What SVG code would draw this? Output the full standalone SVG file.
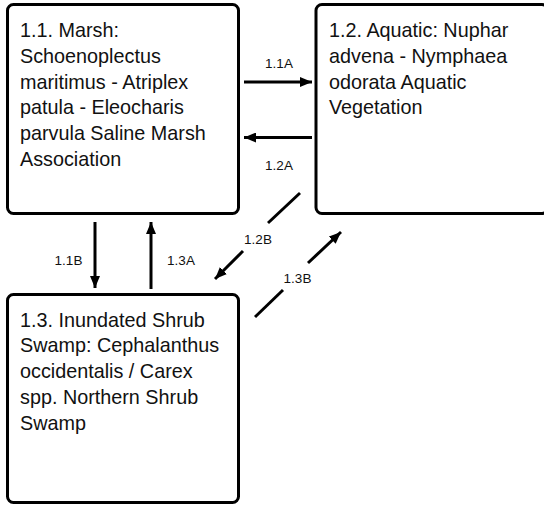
<svg xmlns="http://www.w3.org/2000/svg" width="544" height="506" viewBox="0 0 544 506">
<style>
.box{fill:#fff;stroke:#000;stroke-width:3}
.t{font-family:"Liberation Sans",Arial,sans-serif;font-size:19.8px;fill:#111}
.l{font-family:"Liberation Sans",Arial,sans-serif;font-size:13.5px;fill:#111;text-anchor:middle}
.c{stroke:#000;stroke-width:3;fill:none}
</style>
<defs>
<marker id="ah" viewBox="0 0 12 10" refX="12" refY="5" markerWidth="12" markerHeight="10" markerUnits="userSpaceOnUse" orient="auto">
<path d="M0,0 L12,5 L0,10 Z" fill="#000"/>
</marker>
</defs>
<rect width="544" height="506" fill="#fff"/>
<g id="n11">
<rect class="box" x="7.5" y="4.5" width="231" height="209" rx="6"/>
<text class="t">
<tspan x="20" y="37">1.1. Marsh:</tspan>
<tspan x="20" y="62.8">Schoenoplectus</tspan>
<tspan x="20" y="88.6">maritimus - Atriplex</tspan>
<tspan x="20" y="114.4">patula - Eleocharis</tspan>
<tspan x="20" y="140.2">parvula Saline Marsh</tspan>
<tspan x="20" y="166">Association</tspan>
</text>
</g>
<g id="n12">
<rect class="box" x="316" y="4.5" width="232" height="209" rx="6"/>
<text class="t">
<tspan x="329" y="37">1.2. Aquatic: Nuphar</tspan>
<tspan x="329" y="62.8">advena - Nymphaea</tspan>
<tspan x="329" y="88.6">odorata Aquatic</tspan>
<tspan x="329" y="114.4">Vegetation</tspan>
</text>
</g>
<g id="n13">
<rect class="box" x="7.5" y="294.5" width="231" height="208" rx="6"/>
<text class="t">
<tspan x="20" y="326.5">1.3. Inundated Shrub</tspan>
<tspan x="20" y="352.3">Swamp: Cephalanthus</tspan>
<tspan x="20" y="378.1">occidentalis / Carex</tspan>
<tspan x="20" y="403.9">spp. Northern Shrub</tspan>
<tspan x="20" y="429.7">Swamp</tspan>
</text>
</g>
<g id="connectors">
<line class="c" x1="244" y1="82" x2="312" y2="82" marker-end="url(#ah)"/>
<text class="l" x="279" y="68">1.1A</text>
<line class="c" x1="312" y1="137.5" x2="244" y2="137.5" marker-end="url(#ah)"/>
<text class="l" x="279" y="170">1.2A</text>
<line class="c" x1="95" y1="222" x2="95" y2="288" marker-end="url(#ah)"/>
<text class="l" x="68.5" y="265">1.1B</text>
<line class="c" x1="151" y1="289" x2="151" y2="222" marker-end="url(#ah)"/>
<text class="l" x="181" y="265">1.3A</text>
<line class="c" x1="300" y1="193" x2="268" y2="223"/>
<line class="c" x1="243" y1="251" x2="215" y2="279" marker-end="url(#ah)"/>
<text class="l" x="258" y="244">1.2B</text>
<line class="c" x1="255" y1="317" x2="283" y2="290"/>
<line class="c" x1="308" y1="263" x2="341" y2="232" marker-end="url(#ah)"/>
<text class="l" x="297.5" y="283">1.3B</text>
</g>
</svg>
